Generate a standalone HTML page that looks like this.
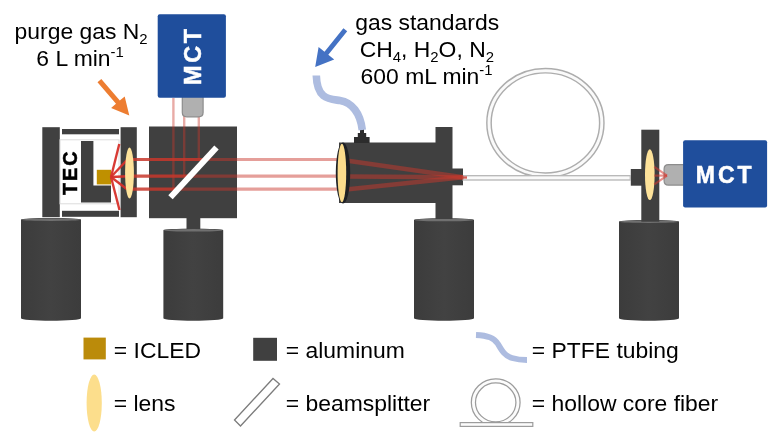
<!DOCTYPE html>
<html>
<head>
<meta charset="utf-8">
<title>Optical setup diagram</title>
<style>
  html, body { margin: 0; padding: 0; background: #ffffff; }
  body { width: 768px; height: 439px; overflow: hidden; }
  svg { display: block; will-change: transform; transform: translateZ(0); }
  text { font-family: "Liberation Sans", sans-serif; fill: #000; }
  .al { fill: #404040; }
  .bold { font-weight: bold; }
</style>
</head>
<body>
<svg width="768" height="439" viewBox="0 0 768 439">
  <defs>
    <linearGradient id="cyl" x1="0" y1="0" x2="1" y2="0">
      <stop offset="0" stop-color="#3c3c3c"/>
      <stop offset="0.5" stop-color="#424242"/>
      <stop offset="1" stop-color="#3c3c3c"/>
    </linearGradient>
  </defs>
  <rect x="0" y="0" width="768" height="439" fill="#ffffff"/>

  <!-- ===== cylinders (posts bases) ===== -->
  <g id="cylinders">
    <path d="M21 219.6 L21 318.3 A30.0 2.5 0 0 0 81 318.3 L81 219.6 A30.0 1.7 0 0 0 21 219.6 Z" fill="url(#cyl)"/>
    <ellipse cx="51.0" cy="219.7" rx="29.4" ry="1.25" fill="#707070"/>
    <rect x="186.5" y="216" width="13.8" height="14" class="al"/>
    <path d="M163.4 230.2 L163.4 318.3 A29.9 2.5 0 0 0 223.2 318.3 L223.2 230.2 A29.9 1.7 0 0 0 163.4 230.2 Z" fill="url(#cyl)"/>
    <ellipse cx="193.3" cy="230.29999999999998" rx="29.29999999999999" ry="1.25" fill="#707070"/>
    <path d="M414 219.9 L414 318.3 A30.0 2.5 0 0 0 474 318.3 L474 219.9 A30.0 1.7 0 0 0 414 219.9 Z" fill="url(#cyl)"/>
    <ellipse cx="444.0" cy="220.0" rx="29.4" ry="1.25" fill="#707070"/>
    <path d="M619 221.6 L619 318.3 A30.0 2.5 0 0 0 679 318.3 L679 221.6 A30.0 1.7 0 0 0 619 221.6 Z" fill="url(#cyl)"/>
    <ellipse cx="649.0" cy="221.7" rx="29.4" ry="1.25" fill="#707070"/>
  </g>

  <!-- ===== ICLED housing ===== -->
  <g id="housing">
    <rect x="42.3" y="127.2" width="17.5" height="90" class="al"/>
    <rect x="62" y="129" width="57" height="5.3" class="al"/>
    <rect x="62" y="210.8" width="57" height="6" class="al"/>
    <rect x="120.6" y="127.2" width="16.2" height="90" class="al"/>
    <!-- TEC panel -->
    <rect x="60" y="139.8" width="59" height="64" fill="#ffffff" stroke="#dcdcdc" stroke-width="1"/>
    <!-- L mount -->
    <path d="M81 141 L93.4 141 L93.4 185.5 L111 185.5 L111 202.5 L81 202.5 Z" class="al"/>
    <!-- LED -->
    <rect x="96.8" y="169.8" width="14.2" height="14.6" fill="#bf9000"/>
    <text class="bold" transform="translate(77.2,172.2) rotate(-90)" text-anchor="middle" font-size="19.8" letter-spacing="2" stroke="#000" stroke-width="0.5">TEC</text>
  </g>

  <!-- ===== beamsplitter cube ===== -->
  <rect x="149" y="126.5" width="88" height="91.7" class="al"/>

  <!-- ===== gas cell ===== -->
  <g id="gascell">
    <rect x="339" y="142.5" width="97" height="60.5" class="al"/>
    <rect x="435.5" y="127" width="17" height="92" class="al"/>
    <rect x="452" y="168.5" width="11" height="16.8" class="al"/>
    <!-- fitting -->
    <path d="M354 143 L354 136.9 L357.8 136.9 L357.8 132.9 L360 132.9 L360 128.8 L364 128.8 L364 132.9 L366.2 132.9 L366.2 136.9 L369.6 136.9 L369.6 143 Z" fill="#2c2c2c"/>
  </g>

  <!-- ===== right lens mount ===== -->
  <g id="rmount">
    <rect x="641.3" y="129.7" width="18" height="92" class="al"/>
    <rect x="630.8" y="169" width="11.5" height="16.7" class="al"/>
  </g>

  <!-- ===== fiber ===== -->
  <g id="fiber" fill="none">
    <ellipse cx="545.4" cy="122.9" rx="56.4" ry="52.2" stroke="#adadad" stroke-width="5.8"/>
    <ellipse cx="545.4" cy="122.9" rx="56.4" ry="52.2" stroke="#fafafa" stroke-width="2.9"/>
    <rect x="463" y="175.7" width="167.3" height="4.3" fill="#fafafa" stroke="#b6b6b6" stroke-width="1.3"/>
  </g>

  <!-- ===== beams ===== -->
  <g id="beams" stroke="#c8372c" fill="none">
    <!-- LED fan -->
    <g stroke-width="2.4" stroke="#d6302a" stroke-opacity="0.95">
      <line x1="111" y1="177" x2="119.3" y2="144"/>
      <line x1="111" y1="177" x2="127" y2="160"/>
      <line x1="111" y1="177" x2="128" y2="176.3"/>
      <line x1="111" y1="177" x2="127" y2="189.3"/>
      <line x1="111" y1="177" x2="119.5" y2="210"/>
    </g>
    <!-- strong beams: lens -> splitter -->
    <g stroke-width="3.2" stroke-opacity="0.85">
      <line x1="132" y1="159.5" x2="205" y2="159.5"/>
      <line x1="132" y1="176.2" x2="189.5" y2="176.2"/>
      <line x1="132" y1="189.2" x2="177.5" y2="189.2"/>
    </g>
    <!-- weaker transmitted beams -->
    <g stroke-width="3.2" stroke-opacity="0.48">
      <line x1="205" y1="159.5" x2="338" y2="159.5"/>
      <line x1="189.5" y1="176.2" x2="338" y2="176.2"/>
      <line x1="177.5" y1="189.2" x2="338" y2="189.2"/>
    </g>
    <!-- vertical reflected beams to MCT -->
    <g stroke-width="2.4" stroke-opacity="0.42">
      <line x1="173.4" y1="98" x2="173.4" y2="189.2"/>
      <line x1="184.2" y1="98" x2="184.2" y2="176.2"/>
      <line x1="198.8" y1="98" x2="198.8" y2="159.5"/>
    </g>
    <!-- focused in gas cell -->
    <g stroke-width="4.6" stroke-opacity="0.5">
      <line x1="346" y1="160.5" x2="463" y2="177.3"/>
      <line x1="346" y1="176.5" x2="463" y2="177.3"/>
      <line x1="346" y1="189.5" x2="463" y2="177.3"/>
    </g>
    <!-- fiber core red -->
    <line x1="463" y1="177.5" x2="467" y2="177.5" stroke-width="2.4" stroke-opacity="0.8"/>
  </g>
  </g>

  <!-- beamsplitter plate -->
  <line x1="170.5" y1="197.2" x2="216.5" y2="147.5" stroke="#ffffff" stroke-width="6"/>

  <!-- ===== lenses ===== -->
  <ellipse cx="129.5" cy="173" rx="4.4" ry="25.5" fill="#fde29a"/>
  <ellipse cx="343" cy="173" rx="7.2" ry="30.6" fill="#1e2024"/>
  <ellipse cx="341.9" cy="173" rx="4.3" ry="29.3" fill="#fbdc8c"/>
  <ellipse cx="649.8" cy="174.7" rx="4.8" ry="25.4" fill="#fde29a"/>

  <!-- ===== MCT detectors ===== -->
  <g id="mct-top">
    <path d="M182.3 96 L203.1 96 L203.1 112.5 Q203.1 116.8 198.6 116.8 L186.8 116.8 Q182.3 116.8 182.3 112.5 Z" fill="#b0b0b0" stroke="#8c8c8c" stroke-width="1.2"/>
    <rect x="157.7" y="14.2" width="68.2" height="83.5" rx="2" fill="#1f4e9c"/>
    <text class="bold" transform="translate(200.6,55.6) rotate(-90)" text-anchor="middle" font-size="23.5" letter-spacing="2.7" stroke="#fff" stroke-width="0.5" style="fill:#fff">MCT</text>
  </g>
  <g id="mct-right">
    <path d="M684 164.7 L684 185.1 L668.4 185.1 Q664.1 185.1 664.1 180.7 L664.1 169.1 Q664.1 164.7 668.4 164.7 Z" fill="#b0b0b0" stroke="#8c8c8c" stroke-width="1.2"/>
    <rect x="683.1" y="140.3" width="84" height="67.2" rx="2" fill="#1f4e9c"/>
    <text class="bold" x="725.2" y="182.6" text-anchor="middle" font-size="23" letter-spacing="3" stroke="#fff" stroke-width="0.5" style="fill:#fff">MCT</text>
  </g>

  <!-- exit fan (lens -> detector focus) -->
  <g stroke="#d8372e" stroke-width="2.2" stroke-opacity="0.55" fill="none">
    <line x1="654.3" y1="166.8" x2="667" y2="175.6"/>
    <line x1="654.3" y1="175.6" x2="667" y2="175.6"/>
    <line x1="654.3" y1="184.4" x2="667" y2="175.6"/>
  </g>

  <!-- ===== arrows & tubing ===== -->
  <polygon points="97.5,82.2 101.3,79 119.8,100.6 124.7,96.4 129.3,115.6 111.1,108 116,103.8" fill="#ed7d31"/>
  <polygon points="347.2,31.3 343.4,28.3 324.5,51.7 318.6,46.9 315.2,67.1 334.2,59.5 328.3,54.7" fill="#4472c4"/>
  <path d="M316.3 75.5 C317 100, 330 99, 340 100.5 C352 102.5, 360.3 113, 362.3 130" fill="none" stroke="#adbce0" stroke-width="7.6"/>

  <!-- ===== labels ===== -->
  <g font-size="22.9">
    <text x="14.6" y="38.7">purge gas N<tspan font-size="14.9" dy="5.5">2</tspan></text>
    <text x="36.3" y="66">6 L min<tspan font-size="14.9" dy="-9">-1</tspan></text>
    <text x="355.3" y="29.5">gas standards</text>
    <text x="359.7" y="56.8">CH<tspan font-size="14.9" dy="5.5">4</tspan><tspan dy="-5.5">, H</tspan><tspan font-size="14.9" dy="5.5">2</tspan><tspan dy="-5.5">O, N</tspan><tspan font-size="14.9" dy="5.5">2</tspan></text>
    <text x="360.6" y="83.5">600 mL min<tspan font-size="14.9" dy="-9">-1</tspan></text>
  </g>

  <!-- ===== legend ===== -->
  <g id="legend" font-size="22.9">
    <rect x="83.5" y="337.6" width="22.3" height="21.8" fill="#bb8b0a"/>
    <text x="113.8" y="357.5">= ICLED</text>
    <rect x="253.2" y="337.8" width="23.8" height="23" class="al"/>
    <text x="285.8" y="357.5">= aluminum</text>
    <path d="M476 335 C488 335.5, 494 338, 498 344 C502 351, 505 356, 512 358 C517 359.5, 522 360, 527 360" fill="none" stroke="#adbce0" stroke-width="5.8"/>
    <text x="531.8" y="357.5">= PTFE tubing</text>

    <ellipse cx="94.2" cy="403" rx="7.6" ry="28.5" fill="#fcde8c"/>
    <text x="113.8" y="410.5">= lens</text>
    <polygon points="234.5,420 273,378.5 279.5,384 240.5,426" fill="#ffffff" stroke="#7c7c7c" stroke-width="1.3"/>
    <text x="285.8" y="410.5">= beamsplitter</text>
    <g fill="none">
      <ellipse cx="495.7" cy="402.4" rx="22.3" ry="21.5" stroke="#9c9c9c" stroke-width="5.4"/>
      <ellipse cx="495.7" cy="402.4" rx="22.3" ry="21.5" stroke="#fcfcfc" stroke-width="2.9"/>
      <rect x="460.2" y="422.6" width="72.6" height="3.8" fill="#fcfcfc" stroke="#9c9c9c" stroke-width="1.2"/>
    </g>
    <text x="531.8" y="410.5">= hollow core fiber</text>
  </g>
</svg>
</body>
</html>
